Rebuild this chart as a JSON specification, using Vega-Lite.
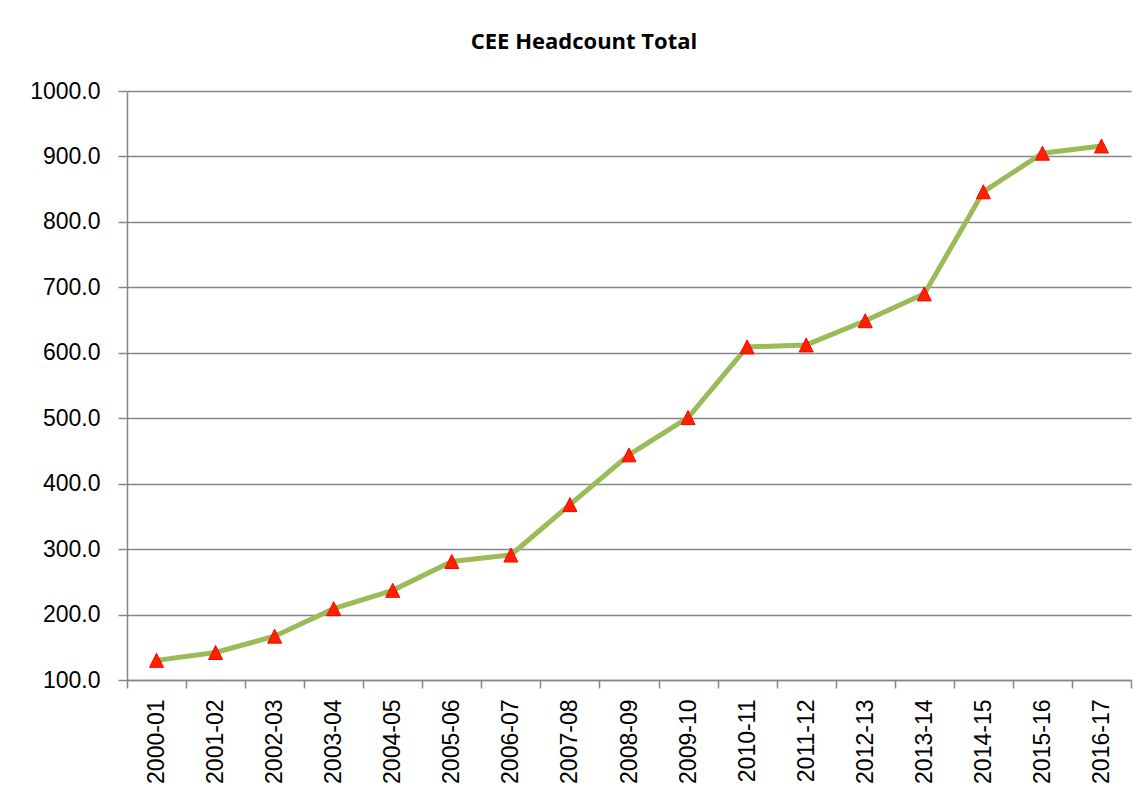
{
  "$schema": "https://vega.github.io/schema/vega-lite/v6.json",
  "width": 1004,
  "height": 589,
  "autosize": {"type": "none"},
  "padding": {"left": 127, "top": 91, "right": 14, "bottom": 122},
  "background": "white",
  "title": {"text": "CEE Headcount Total", "font": "Open Sans", "fontWeight": "bold", "fontSize": 22, "color": "black", "anchor": "middle", "dx": -45, "offset": 26},
  "data": {"values": [
    {"year": "2000-01", "total": 130},
    {"year": "2001-02", "total": 142},
    {"year": "2002-03", "total": 167},
    {"year": "2003-04", "total": 209},
    {"year": "2004-05", "total": 237},
    {"year": "2005-06", "total": 281},
    {"year": "2006-07", "total": 291},
    {"year": "2007-08", "total": 368},
    {"year": "2008-09", "total": 444},
    {"year": "2009-10", "total": 501},
    {"year": "2010-11", "total": 609},
    {"year": "2011-12", "total": 612},
    {"year": "2012-13", "total": 649},
    {"year": "2013-14", "total": 690},
    {"year": "2014-15", "total": 846},
    {"year": "2015-16", "total": 905},
    {"year": "2016-17", "total": 916}
  ]},
  "encoding": {
    "x": {"field": "year", "type": "ordinal", "sort": null,
      "scale": {"paddingInner": 0, "paddingOuter": 0},
      "axis": {"title": null, "labelAngle": -90, "tickBand": "extent", "tickSize": 8, "tickColor": "#868686", "tickWidth": 1.5, "domainColor": "#868686", "domainWidth": 1.5, "labelFont": "Liberation Sans", "labelFontSize": 23, "labelColor": "black", "labelPadding": 11, "grid": false}},
    "y": {"field": "total", "type": "quantitative",
      "scale": {"domain": [100, 1000], "nice": false, "zero": false},
      "axis": {"title": null, "values": [100, 200, 300, 400, 500, 600, 700, 800, 900, 1000], "format": ".1f", "grid": true, "gridColor": "#868686", "gridWidth": 1.5, "tickSize": 9, "tickColor": "#868686", "tickWidth": 1.5, "domainColor": "#868686", "domainWidth": 1.5, "labelFont": "Liberation Sans", "labelFontSize": 23, "labelColor": "black", "labelPadding": 18}}
  },
  "layer": [
    {"mark": {"type": "line", "color": "#9bbb59", "strokeWidth": 5}},
    {"mark": {"type": "point", "shape": "M0,-1L1,1L-1,1Z", "filled": true, "fill": "#ff2200", "stroke": "#ff0000", "strokeWidth": 1, "size": 196, "opacity": 1}}
  ],
  "config": {"view": {"stroke": null}}
}
